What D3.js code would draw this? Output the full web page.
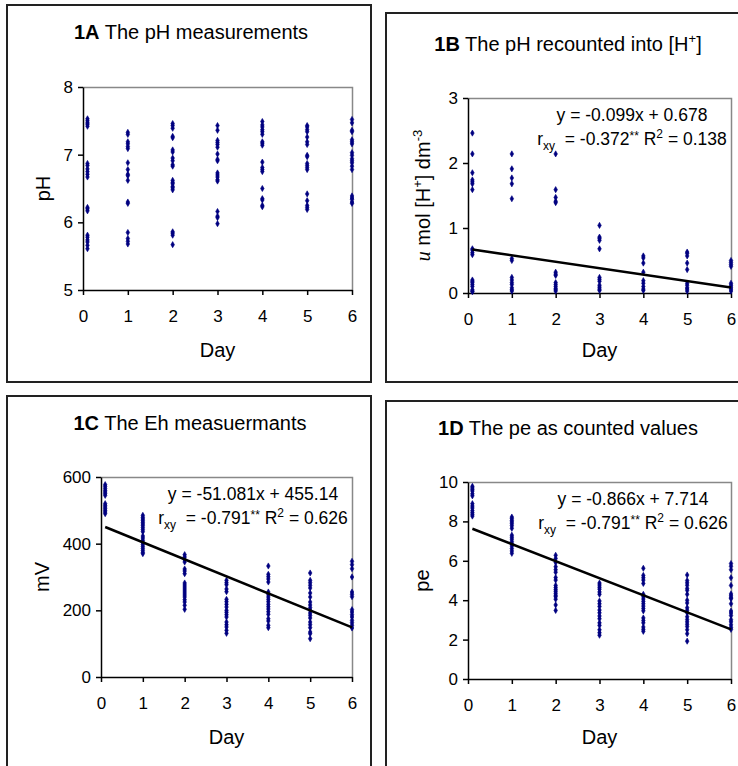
<!DOCTYPE html>
<html>
<head>
<meta charset="utf-8">
<script src="https://cdn.jsdelivr.net/npm/d3@7"></script>
<style>
  body { margin: 0; background: #fff; }
  svg { display: block; font-family: "Liberation Sans", Arial, sans-serif; }
</style>
</head>
<body>
<svg id="vis" width="738" height="766"></svg>
<script>
// Sampling days (day 0 plotted slightly right of the axis, as in the original)
const days = [0.1, 1, 2, 3, 4, 5, 6];
const dayTicks = [0, 1, 2, 3, 4, 5, 6];

// 1A pH, one list per day
const phValues = [
  [7.53, 7.50, 7.47, 7.45, 7.42, 6.87, 6.84, 6.79, 6.75, 6.71, 6.67, 6.22, 6.20, 6.17, 5.81, 5.78, 5.74, 5.71, 5.66, 5.61],
  [7.33, 7.30, 7.19, 7.16, 7.12, 7.09, 6.88, 6.78, 6.71, 6.69, 6.62, 6.30, 6.28, 5.85, 5.76, 5.72, 5.68],
  [7.46, 7.43, 7.39, 7.27, 7.25, 7.07, 7.04, 6.95, 6.91, 6.85, 6.83, 6.62, 6.59, 6.57, 6.53, 6.51, 6.48, 5.86, 5.84, 5.81, 5.67],
  [7.43, 7.36, 7.21, 7.18, 7.15, 7.11, 7.01, 6.93, 6.91, 6.73, 6.70, 6.67, 6.63, 6.61, 6.16, 6.09, 6.07, 5.98],
  [7.49, 7.44, 7.41, 7.37, 7.34, 7.30, 7.19, 7.17, 7.14, 6.89, 6.81, 6.78, 6.75, 6.50, 6.35, 6.33, 6.25, 6.23],
  [7.43, 7.41, 7.37, 7.34, 7.26, 7.19, 7.15, 6.99, 6.97, 6.87, 6.84, 6.81, 6.78, 6.42, 6.32, 6.25, 6.22, 6.19],
  [7.52, 7.47, 7.36, 7.34, 7.22, 7.19, 7.16, 7.03, 6.99, 6.94, 6.91, 6.88, 6.83, 6.78, 6.39, 6.36, 6.34, 6.30, 6.28]
];

// 1B [H+] in umol/dm3
const hValues = [
  [2.46, 2.14, 1.85, 1.74, 1.71, 1.68, 1.59, 0.68, 0.66, 0.62, 0.59, 0.20, 0.18, 0.16, 0.13, 0.10, 0.05, 0.03, 0.02],
  [2.14, 1.91, 1.77, 1.68, 1.45, 0.53, 0.50, 0.24, 0.20, 0.16, 0.13, 0.08, 0.05, 0.03],
  [2.14, 1.59, 1.47, 1.41, 1.39, 0.32, 0.29, 0.27, 0.16, 0.13, 0.10, 0.07, 0.05, 0.03],
  [1.04, 0.86, 0.84, 0.81, 0.68, 0.24, 0.21, 0.18, 0.12, 0.09, 0.06, 0.04],
  [0.57, 0.54, 0.46, 0.32, 0.19, 0.15, 0.10, 0.06, 0.04],
  [0.63, 0.61, 0.57, 0.46, 0.36, 0.15, 0.12, 0.08, 0.06, 0.03],
  [0.50, 0.47, 0.44, 0.41, 0.15, 0.12, 0.09, 0.06, 0.03]
];

// 1C Eh in mV
const ehValues = [
  [577, 572, 566, 560, 555, 550, 545, 520, 515, 510, 505, 500, 495, 490],
  [485, 479, 474, 469, 464, 459, 454, 448, 442, 436, 423, 417, 410, 404, 398, 392, 386, 380, 374, 370],
  [367, 360, 352, 345, 324, 318, 310, 282, 276, 270, 264, 258, 252, 246, 240, 232, 225, 215, 203],
  [290, 283, 277, 264, 256, 233, 226, 218, 210, 200, 194, 187, 180, 165, 157, 150, 140, 131],
  [333, 308, 301, 294, 285, 255, 247, 240, 233, 226, 218, 211, 204, 196, 188, 175, 168, 155, 148],
  [312, 290, 283, 275, 267, 252, 240, 225, 216, 208, 200, 192, 185, 177, 165, 157, 148, 135, 130, 115],
  [347, 337, 325, 300, 255, 248, 241, 202, 195, 187, 180, 170, 163, 155, 147]
];

// 1D pe
const peValues = [
  [9.78, 9.70, 9.62, 9.54, 9.40, 9.30, 8.90, 8.78, 8.68, 8.55, 8.45, 8.36, 8.27],
  [8.22, 8.14, 8.05, 7.97, 7.88, 7.78, 7.65, 7.30, 7.20, 7.10, 6.98, 6.88, 6.75, 6.62, 6.50, 6.38],
  [6.28, 6.12, 5.92, 5.70, 5.55, 5.42, 5.15, 5.02, 4.75, 4.64, 4.54, 4.45, 4.35, 4.25, 4.18, 4.05, 3.76, 3.48],
  [4.87, 4.77, 4.66, 4.56, 4.42, 4.30, 3.96, 3.82, 3.68, 3.50, 3.36, 3.20, 3.06, 2.85, 2.72, 2.50, 2.35, 2.22],
  [5.62, 5.26, 5.14, 5.02, 4.85, 4.30, 4.18, 4.06, 3.94, 3.82, 3.70, 3.58, 3.46, 3.10, 2.97, 2.85, 2.64, 2.52, 2.42],
  [5.28, 5.00, 4.88, 4.76, 4.60, 4.50, 4.30, 4.00, 3.86, 3.62, 3.49, 3.36, 3.16, 3.02, 2.90, 2.78, 2.66, 2.50, 2.30, 1.92],
  [5.86, 5.72, 5.55, 5.14, 4.75, 4.32, 4.22, 4.12, 4.08, 3.82, 3.45, 3.35, 3.22, 3.01, 2.90, 2.75, 2.62, 2.52]
];

// Linear trends [slope, intercept]
const trendB = [-0.099, 0.678];
const trendC = [-51.081, 455.14];
const trendD = [-0.866, 7.714];

const svg = d3.select('#vis');
const navy = '#000080';

function drawPanel(p) {
  const g = svg.append('g');

  // Outer frame
  g.append('rect')
    .attr('x', p.box[0]).attr('y', p.box[1])
    .attr('width', p.box[2]).attr('height', p.box[3])
    .attr('fill', 'none')
    .attr('stroke', '#222')
    .attr('stroke-width', 2);

  // Title: bold panel id + regular text
  const title = g.append('text')
    .attr('x', p.titlePos[0]).attr('y', p.titlePos[1])
    .attr('text-anchor', 'middle')
    .style('font-size', '20px');
  title.append('tspan').attr('font-weight', 'bold').text(p.id);
  title.append('tspan').text(' ' + p.title);
  if (p.titleSup) {
    title.append('tspan').attr('dy', -8).style('font-size', '13px').text('+');
    title.append('tspan').attr('dy', 8).text(']');
  }

  const [left, top, right, bottom] = p.plot;
  const x = d3.scaleLinear().domain([0, 6]).range([left, right]);
  const y = d3.scaleLinear().domain(p.yDomain).range([bottom, top]);

  // Plot area border (grey on top and right)
  g.append('path')
    .attr('d', `M${left},${top + 0.5}H${right + 0.5}V${bottom}`)
    .attr('fill', 'none')
    .attr('stroke', '#888')
    .attr('stroke-width', 1.5);

  // Axes
  const xAxis = g.append('g')
    .attr('transform', `translate(0,${bottom})`)
    .call(d3.axisBottom(x).tickValues(dayTicks).tickFormat(d3.format('d'))
      .tickSize(5).tickSizeOuter(0).tickPadding(15));
  const yAxis = g.append('g')
    .attr('transform', `translate(${left},0)`)
    .call(d3.axisLeft(y).tickValues(p.yTicks).tickFormat(d3.format('d'))
      .tickSize(5).tickSizeOuter(0).tickPadding(5));

  [xAxis, yAxis].forEach((a) => {
    a.selectAll('.domain').attr('stroke', '#000').attr('stroke-width', 1.5);
    a.selectAll('.tick line').attr('stroke', '#000').attr('stroke-width', 1.5);
    a.selectAll('.tick text')
      .attr('fill', '#000')
      .style('font-family', '"Liberation Sans", Arial, sans-serif')
      .style('font-size', '17px');
  });

  // Axis titles
  g.append('text')
    .attr('x', (left + right) / 2)
    .attr('y', p.dayY)
    .attr('text-anchor', 'middle')
    .style('font-size', '20px')
    .text('Day');

  const yl = g.append('text')
    .attr('transform', `translate(${p.yLabelX},${(top + bottom) / 2}) rotate(-90)`)
    .attr('text-anchor', 'middle')
    .style('font-size', '20px');
  if (p.yLabelParts) {
    p.yLabelParts.forEach((part) => {
      const t = yl.append('tspan').text(part.t);
      if (part.italic) t.attr('font-style', 'italic').attr('font-family', '"Liberation Serif", serif');
      if (part.dy) t.attr('dy', part.dy);
      if (part.small) t.style('font-size', '13px');
    });
  } else {
    yl.text(p.yLabel);
  }

  // Points
  const pts = [];
  p.values.forEach((list, i) => {
    list.forEach((v) => pts.push({ day: days[i], value: v }));
  });

  g.selectAll('path.pt')
    .data(pts)
    .enter()
    .append('path')
    .attr('class', 'pt')
    .attr('d', d3.symbol(d3.symbolDiamond, 11))
    .attr('transform', (d) => `translate(${x(d.day)},${y(d.value)})`)
    .attr('fill', navy)
    .attr('stroke', navy)
    .attr('stroke-width', 0.6);

  // Trend line and equation
  if (p.trend) {
    const [a, b] = p.trend;
    const line = d3.line()
      .x((d) => x(d))
      .y((d) => y(a * d + b));
    g.append('path')
      .datum([days[0], days[days.length - 1]])
      .attr('d', line)
      .attr('fill', 'none')
      .attr('stroke', '#000')
      .attr('stroke-width', 2.5);

    g.append('text')
      .attr('x', p.eqPos[0]).attr('y', p.eqPos[1])
      .attr('text-anchor', 'middle')
      .style('font-size', '17.5px')
      .text(`y = ${a}x + ${p.eqIntercept}`);

    const r = g.append('text')
      .attr('x', p.eqPos[0]).attr('y', p.eqPos[1] + 24)
      .attr('text-anchor', 'middle')
      .style('font-size', '17.5px')
      .attr('xml:space', 'preserve');
    r.append('tspan').text('r');
    r.append('tspan').attr('dy', 5).style('font-size', '12px').text('xy');
    r.append('tspan').attr('dy', -5).text(`  = ${p.rxy}`);
    r.append('tspan').attr('dy', -5).style('font-size', '12px').text('**');
    r.append('tspan').attr('dy', 5).text(' R');
    r.append('tspan').attr('dy', -7).style('font-size', '12px').text('2');
    r.append('tspan').attr('dy', 7).text(` = ${p.r2}`);
  }
}

drawPanel({
  id: '1A', title: 'The pH measurements',
  box: [7, 5, 364, 377], titlePos: [191, 39],
  plot: [83, 87, 352, 290], yDomain: [5, 8], yTicks: [5, 6, 7, 8],
  dayY: 357, yLabelX: 50, yLabel: 'pH',
  values: phValues
});

drawPanel({
  id: '1B', title: 'The pH recounted into [H', titleSup: true,
  box: [386, 13, 370, 369], titlePos: [568, 51],
  plot: [468, 98, 731, 293], yDomain: [0, 3], yTicks: [0, 1, 2, 3],
  dayY: 357, yLabelX: 430,
  yLabelParts: [
    { t: 'u', italic: true }, { t: ' mol [H' }, { t: '+', dy: -8, small: true },
    { t: '] dm', dy: 8 }, { t: '-3', dy: -8, small: true }
  ],
  values: hValues,
  trend: trendB, eqIntercept: '0.678', eqPos: [632, 121], rxy: '-0.372', r2: '0.138'
});

drawPanel({
  id: '1C', title: 'The Eh measuermants',
  box: [7, 396, 364, 380], titlePos: [190, 430],
  plot: [101, 477, 352, 677], yDomain: [0, 600], yTicks: [0, 200, 400, 600],
  dayY: 744, yLabelX: 49, yLabel: 'mV',
  values: ehValues,
  trend: trendC, eqIntercept: '455.14', eqPos: [253, 500], rxy: '-0.791', r2: '0.626'
});

drawPanel({
  id: '1D', title: 'The pe as counted values',
  box: [386, 401, 370, 380], titlePos: [568, 435],
  plot: [468, 482, 731, 679], yDomain: [0, 10], yTicks: [0, 2, 4, 6, 8, 10],
  dayY: 744, yLabelX: 429, yLabel: 'pe',
  values: peValues,
  trend: trendD, eqIntercept: '7.714', eqPos: [633, 505], rxy: '-0.791', r2: '0.626'
});
</script>
</body>
</html>
